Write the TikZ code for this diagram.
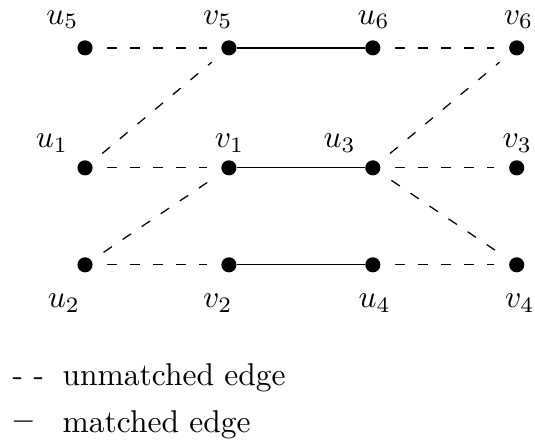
\documentclass[tikz,border=0pt]{standalone}
\usepackage{amsmath, amssymb}
\usepackage{xcolor}
\usepackage{tikz}
\usetikzlibrary{positioning}

\begin{document}
\begin{tikzpicture}[
    node distance=45.7pt,
    vertex/.style={circle, fill, inner sep=0pt, minimum size=4.8pt},
    unmatched/.style={draw, dash pattern=on 3.2pt off 4.1pt, shorten <=4.5pt, shorten >=4.5pt},
    matched/.style={draw},
    key/.style={inner sep=0pt, anchor=base west}
]
\useasboundingbox (-27pt,-56.2pt) rectangle (142.9pt,84.1pt);

\node[vertex] (u2) at (0,0) {};
\node[vertex] (v2) [right of=u2] {};
\node[vertex] (u4) [right of=v2] {};
\node[vertex] (v4) [right of=u4] {};
\node[vertex] (u1) [above of=u2, node distance=30.8pt] {};
\node[vertex] (v1) [right of=u1] {};
\node[vertex] (u3) [right of=v1] {};
\node[vertex] (v3) [right of=u3] {};
\node[vertex] (u5) [above of=u1, node distance=38.1pt] {};
\node[vertex] (v5) [right of=u5] {};
\node[vertex] (u6) [right of=v5] {};
\node[vertex] (v6) [right of=u6] {};

\node (lu5) at (u5) [xshift=-7.2pt, yshift=8.9pt] {$u_5$};
\node (lv5) at (v5) [xshift=-3.5pt, yshift=8.9pt] {$v_5$};
\node (lu6) at (u6) [xshift=0.3pt, yshift=8.9pt] {$u_6$};
\node (lv6) at (v6) [xshift=0.6pt, yshift=8.9pt] {$v_6$};
\node (lu1) at (u1) [xshift=-10.5pt, yshift=7.9pt] {$u_1$};
\node (lv1) at (v1) [xshift=0.2pt, yshift=7.9pt] {$v_1$};
\node (lu3) at (u3) [xshift=-10.5pt, yshift=7.9pt] {$u_3$};
\node (lv3) at (v3) [xshift=0.2pt, yshift=7.9pt] {$v_3$};
\node (lu2) at (u2) [xshift=-6.7pt, yshift=-12.1pt] {$u_2$};
\node (lv2) at (v2) [xshift=-3.5pt, yshift=-12.1pt] {$v_2$};
\node (lu4) at (u4) [xshift=0.6pt, yshift=-12.1pt] {$u_4$};
\node (lv4) at (v4) [xshift=1pt, yshift=-12.1pt] {$v_4$};

\draw[unmatched] (u5) -- (v5);
\draw[matched] (v5) -- (u6);
\draw[unmatched] (u6) -- (v6);
\draw[unmatched] (u1) -- (v5);
\draw[unmatched] (u1) -- (v1);
\draw[matched] (v1) -- (u3);
\draw[unmatched] (u3) -- (v3);
\draw[unmatched] (u3) -- (v6);
\draw[unmatched] (u3) -- (v4);
\draw[unmatched] (u2) -- (v1);
\draw[unmatched] (u2) -- (v2);
\draw[matched] (v2) -- (u4);
\draw[unmatched] (u4) -- (v4);

\node[key] (k1) at (-23.2pt,-38.2pt) {- -};
\node[key] (t1) at (-7.3pt,-38.2pt) {unmatched edge};
\node[key] (k2) at (-23.7pt,-52.4pt) {$-$};
\node[key] (t2) at (-7.3pt,-53.2pt) {matched edge};
\end{tikzpicture}
\end{document}
